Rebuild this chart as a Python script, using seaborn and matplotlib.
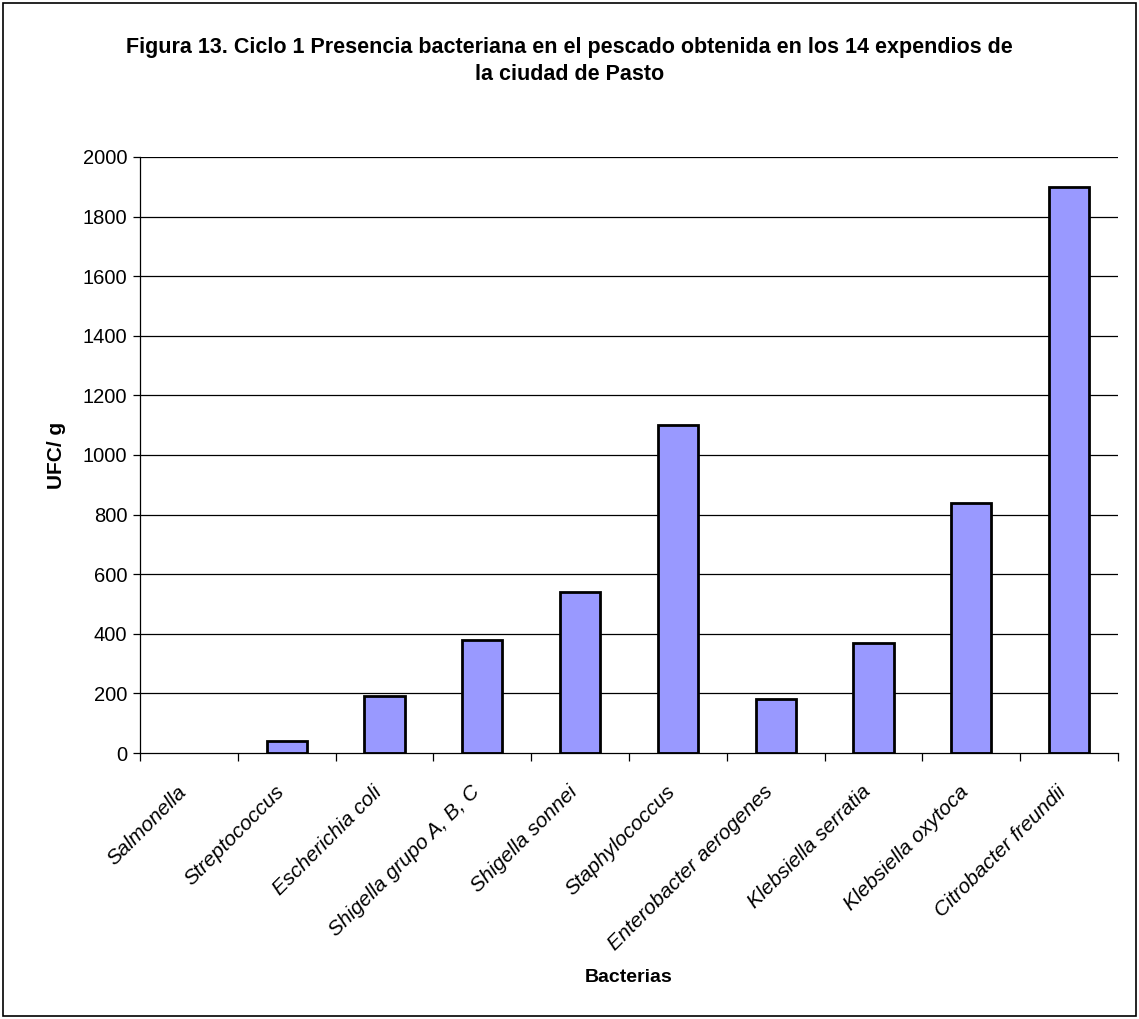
import matplotlib
matplotlib.use("Agg")
import matplotlib.pyplot as plt
import matplotlib.transforms as mtransforms
import seaborn as sns
import pandas as pd
import numpy as np
from matplotlib.patches import Rectangle

categories = ["Salmonella", "Streptococcus", "Escherichia coli", "Shigella grupo A, B, C",
              "Shigella sonnei", "Staphylococcus", "Enterobacter aerogenes",
              "Klebsiella serratia", "Klebsiella oxytoca", "Citrobacter freundii"]
values = [0, 40, 190, 380, 540, 1100, 180, 370, 840, 1900]
yticks = [0, 200, 400, 600, 800, 1000, 1200, 1400, 1600, 1800, 2000]

sns.set_theme(style="white")
plt.rcParams['font.family'] = ['Liberation Sans', 'DejaVu Sans']
plt.rcParams.update({"text.color": "black", "axes.labelcolor": "black",
                     "xtick.color": "black", "ytick.color": "black"})

fig = plt.figure(figsize=(11.39, 10.19), dpi=100)
ax = fig.add_axes([0.1229, 0.261, 0.8587, 0.585])

df = pd.DataFrame({"cat": categories, "val": values})
sns.barplot(data=df, x="cat", y="val", ax=ax, color="#9999FF", saturation=1,
            width=0.41, edgecolor="black", linewidth=2)
for p in ax.patches:
    if p.get_height() == 0:
        p.set_visible(False)

ax.set_ylim(0, 2000)
ax.set_xlim(-0.5, len(categories) - 0.5)
ax.set_yticks(yticks)
ax.set_yticklabels([str(t) for t in yticks], fontsize=14.5)
for t in yticks[1:]:
    ax.axhline(t, color="black", linewidth=0.9, zorder=0)

ax.set_xticks(np.arange(len(categories)))
ax.set_xticklabels(categories, rotation=45, ha="right", va="top", rotation_mode="anchor",
                   fontsize=15, style="italic")
ax.tick_params(axis="x", which="major", length=0, pad=21)
off = mtransforms.ScaledTranslation(-9 / 72, 0, fig.dpi_scale_trans)
for lab in ax.get_xticklabels():
    lab.set_transform(lab.get_transform() + off)
ax.set_xticks(np.arange(len(categories) + 1) - 0.5, minor=True)
ax.tick_params(axis="x", which="minor", length=6, width=0.9, color="black", direction="out", bottom=True)
ax.tick_params(axis="y", length=5, width=0.9, color="black", direction="out", left=True, pad=4)

for s in ["top", "right"]:
    ax.spines[s].set_visible(False)
for s in ["left", "bottom"]:
    ax.spines[s].set_color("black")
    ax.spines[s].set_linewidth(0.9)

ax.set_xlabel("Bacterias", fontsize=14, fontweight="bold")
ax.set_ylabel("UFC/ g", fontsize=15, fontweight="bold", labelpad=12)
ax.xaxis.set_label_coords(0.5, -0.362)

fig.text(0.5, 0.94, "Figura 13. Ciclo 1 Presencia bacteriana en el pescado obtenida en los 14 expendios de\nla ciudad de Pasto",
         ha="center", va="center", fontsize=15.5, fontweight="bold", linespacing=1.4)

fig.patches.append(Rectangle((0.003, 0.003), 0.994, 0.994, transform=fig.transFigure,
                             fill=False, edgecolor="black", linewidth=1.2))

fig.savefig("out.png", dpi=100)
